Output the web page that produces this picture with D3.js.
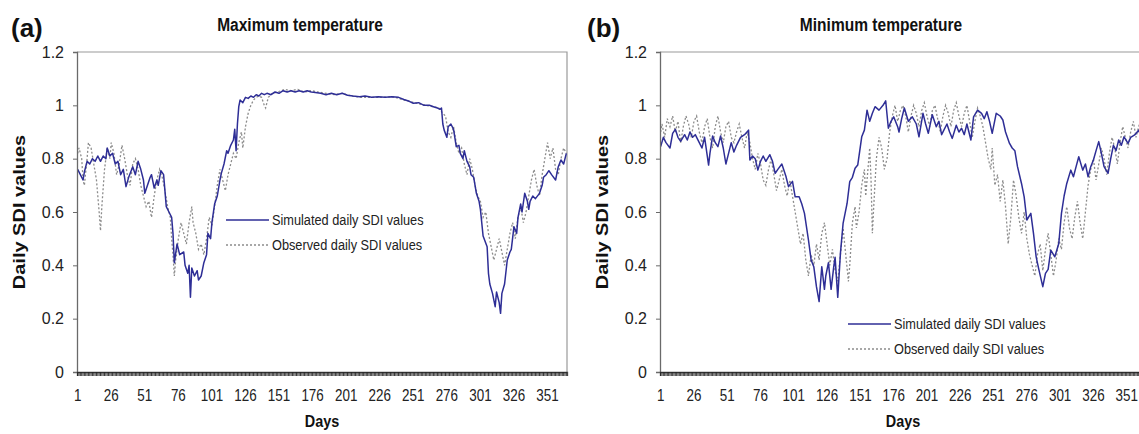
<!DOCTYPE html>
<html>
<head>
<meta charset="utf-8">
<script src="https://cdn.jsdelivr.net/npm/d3@7/dist/d3.min.js"></script>
<style>
  body { margin: 0; background: #fff; }
  svg { font-family: 'Liberation Sans', Arial, sans-serif; }
</style>
</head>
<body>
<div class="chart"></div>
<script>
// categories (days of the year) and axis labels
const days = d3.range(1, 366);
const dayLabels = [1, 26, 51, 76, 101, 126, 151, 176, 201, 226, 251, 276, 301, 326, 351];
const yTicks = [0, 0.2, 0.4, 0.6, 0.8, 1, 1.2];

// (a) maximum temperature, [day, SDI]
const maxSim = [[1,0.76],[3,0.74],[5,0.72],[6,0.75],[8,0.79],[10,0.78],[12,0.8],[14,0.79],[16,0.81],[18,0.79],[20,0.81],[22,0.8],[23,0.84],[25,0.81],[27,0.82],[29,0.78],[31,0.79],[33,0.74],[35,0.76],[37,0.695],[39,0.73],[42,0.77],[44,0.74],[46,0.79],[48,0.76],[50,0.72],[51,0.67],[53,0.7],[55,0.73],[56,0.74],[58,0.69],[60,0.72],[61,0.7],[63,0.755],[65,0.74],[67,0.62],[69,0.6],[71,0.58],[72,0.52],[73,0.41],[75,0.48],[77,0.44],[80,0.45],[81,0.4],[83,0.37],[84,0.4],[85,0.28],[86,0.39],[88,0.36],[90,0.38],[91,0.345],[93,0.36],[95,0.41],[97,0.44],[98,0.52],[100,0.5],[101,0.56],[103,0.63],[105,0.66],[107,0.72],[108,0.745],[110,0.78],[112,0.83],[113,0.82],[115,0.85],[117,0.87],[118,0.91],[119,0.83],[120,0.93],[121,0.995],[122,1.02],[124,1.01],[126,1.03],[128,1.026],[130,1.035],[132,1.03],[134,1.04],[136,1.035],[138,1.045],[140,1.04],[142,1.045],[145,1.04],[148,1.05],[151,1.045],[154,1.055],[157,1.05],[160,1.055],[163,1.05],[166,1.055],[169,1.05],[172,1.055],[175,1.05],[178,1.048],[182,1.045],[186,1.04],[190,1.045],[194,1.04],[198,1.045],[202,1.038],[206,1.035],[211,1.032],[215,1.035],[220,1.03],[225,1.032],[230,1.03],[235,1.032],[240,1.03],[244,1.022],[248,1.015],[251,1.008],[255,1.01],[259,1.0],[263,1.0],[266,0.995],[269,0.99],[271,0.985],[272,0.99],[273,0.93],[274,0.907],[276,0.88],[277,0.92],[279,0.93],[281,0.91],[283,0.845],[285,0.85],[286,0.82],[288,0.8],[289,0.83],[291,0.79],[293,0.77],[294,0.74],[296,0.73],[298,0.67],[300,0.64],[301,0.61],[303,0.51],[306,0.47],[307,0.37],[308,0.33],[310,0.295],[312,0.245],[313,0.3],[315,0.26],[316,0.22],[317,0.295],[319,0.33],[321,0.42],[323,0.45],[324,0.46],[326,0.545],[328,0.52],[329,0.58],[331,0.63],[332,0.6],[334,0.67],[336,0.64],[337,0.61],[338,0.64],[340,0.66],[342,0.65],[345,0.67],[347,0.7],[348,0.73],[350,0.74],[352,0.755],[354,0.74],[357,0.72],[359,0.77],[361,0.795],[363,0.78],[365,0.82]];

const maxObs = [[1,0.82],[2,0.84],[4,0.8],[5,0.72],[6,0.7],[8,0.8],[9,0.86],[11,0.84],[13,0.78],[15,0.72],[17,0.6],[18,0.53],[19,0.62],[21,0.76],[23,0.84],[25,0.8],[26,0.86],[28,0.82],[30,0.74],[32,0.78],[34,0.85],[36,0.8],[38,0.74],[40,0.7],[42,0.78],[44,0.8],[46,0.76],[48,0.7],[50,0.66],[52,0.62],[54,0.64],[56,0.58],[58,0.66],[60,0.72],[62,0.76],[64,0.73],[66,0.68],[68,0.62],[70,0.58],[71,0.5],[72,0.44],[73,0.36],[74,0.42],[76,0.5],[78,0.56],[80,0.52],[82,0.48],[84,0.56],[86,0.62],[87,0.56],[89,0.52],[91,0.46],[93,0.48],[95,0.44],[97,0.5],[99,0.58],[101,0.55],[103,0.62],[105,0.7],[107,0.76],[109,0.72],[111,0.68],[113,0.74],[115,0.78],[117,0.82],[119,0.8],[121,0.86],[123,0.9],[124,0.84],[126,0.92],[128,0.97],[130,1.0],[132,1.02],[134,1.03],[136,1.035],[138,1.03],[140,1.0],[141,0.99],[143,1.03],[146,1.045],[150,1.05],[155,1.06],[160,1.055],[165,1.06],[170,1.05],[175,1.055],[180,1.05],[186,1.045],[192,1.04],[198,1.045],[205,1.035],[212,1.03],[220,1.03],[228,1.03],[236,1.032],[244,1.02],[252,1.01],[260,1.0],[266,0.995],[270,0.99],[273,0.97],[275,0.96],[277,0.9],[279,0.88],[281,0.92],[283,0.86],[285,0.82],[287,0.84],[289,0.78],[291,0.74],[293,0.8],[295,0.76],[297,0.7],[299,0.66],[301,0.64],[303,0.58],[305,0.6],[307,0.52],[309,0.47],[311,0.42],[313,0.46],[315,0.5],[317,0.45],[319,0.4],[321,0.46],[323,0.52],[325,0.56],[327,0.5],[329,0.58],[331,0.62],[333,0.56],[335,0.6],[337,0.66],[339,0.72],[341,0.76],[343,0.7],[345,0.66],[347,0.74],[349,0.8],[351,0.86],[353,0.8],[355,0.84],[357,0.76],[359,0.74],[361,0.8],[363,0.84],[365,0.82]];

// (b) minimum temperature, [day, SDI]
const minSim = [[1,0.845],[3,0.88],[5,0.86],[8,0.84],[10,0.895],[12,0.91],[14,0.88],[16,0.865],[19,0.89],[21,0.87],[23,0.9],[25,0.88],[27,0.89],[30,0.86],[32,0.84],[34,0.88],[37,0.776],[38,0.82],[40,0.885],[42,0.86],[44,0.845],[46,0.885],[48,0.84],[50,0.78],[52,0.82],[54,0.86],[56,0.825],[58,0.85],[61,0.88],[64,0.89],[67,0.907],[68,0.795],[70,0.81],[72,0.8],[74,0.757],[76,0.79],[78,0.81],[80,0.79],[83,0.815],[85,0.79],[87,0.745],[89,0.76],[92,0.78],[95,0.735],[97,0.695],[100,0.715],[102,0.657],[105,0.657],[107,0.63],[109,0.595],[112,0.495],[114,0.42],[116,0.395],[118,0.32],[120,0.264],[122,0.395],[124,0.31],[125,0.36],[127,0.41],[129,0.31],[131,0.395],[132,0.43],[134,0.28],[136,0.445],[138,0.557],[141,0.632],[143,0.714],[145,0.73],[147,0.764],[149,0.776],[152,0.882],[154,0.907],[156,0.982],[158,0.94],[160,0.97],[162,0.995],[165,0.982],[168,1.0],[170,1.017],[172,0.914],[174,0.94],[176,0.957],[179,0.92],[180,0.9],[182,0.95],[184,0.99],[187,0.94],[190,0.957],[193,0.93],[195,0.882],[198,0.97],[200,0.93],[202,0.895],[205,0.965],[208,0.92],[210,0.94],[212,0.89],[216,0.93],[218,0.9],[220,0.876],[223,0.925],[225,0.9],[227,0.914],[229,0.89],[231,0.93],[234,0.87],[236,0.957],[239,0.982],[242,0.97],[244,0.95],[246,0.976],[248,0.94],[250,0.895],[253,0.97],[256,0.96],[258,0.945],[260,0.9],[263,0.857],[265,0.84],[267,0.83],[269,0.77],[272,0.707],[274,0.657],[276,0.57],[279,0.595],[281,0.52],[283,0.432],[285,0.385],[288,0.32],[290,0.37],[292,0.385],[294,0.457],[297,0.432],[300,0.482],[302,0.595],[304,0.66],[306,0.707],[309,0.757],[311,0.732],[313,0.77],[315,0.807],[318,0.757],[320,0.78],[322,0.732],[324,0.77],[326,0.795],[328,0.83],[330,0.864],[332,0.82],[334,0.77],[337,0.745],[339,0.8],[341,0.85],[343,0.83],[345,0.87],[347,0.85],[349,0.882],[352,0.857],[354,0.88],[357,0.889],[360,0.907],[362,0.88],[365,0.93]];

const minObs = [[1,0.9],[2,0.93],[4,0.88],[6,0.95],[8,0.92],[10,0.96],[12,0.9],[14,0.94],[16,0.86],[18,0.92],[20,0.96],[22,0.93],[24,0.88],[26,0.94],[28,0.96],[30,0.9],[32,0.86],[34,0.92],[36,0.95],[38,0.88],[40,0.84],[42,0.92],[44,0.96],[46,0.9],[48,0.86],[50,0.92],[52,0.94],[54,0.88],[56,0.86],[58,0.9],[60,0.93],[62,0.88],[64,0.84],[66,0.9],[68,0.86],[70,0.8],[72,0.76],[74,0.82],[76,0.78],[78,0.72],[80,0.7],[82,0.76],[84,0.8],[86,0.74],[88,0.68],[90,0.72],[92,0.76],[94,0.7],[96,0.66],[98,0.72],[100,0.66],[102,0.6],[104,0.54],[106,0.48],[108,0.52],[110,0.42],[112,0.36],[114,0.44],[116,0.4],[118,0.48],[120,0.42],[122,0.52],[124,0.56],[126,0.48],[128,0.4],[130,0.46],[132,0.38],[134,0.34],[136,0.44],[138,0.54],[140,0.44],[142,0.34],[143,0.4],[145,0.56],[147,0.62],[148,0.54],[150,0.6],[152,0.7],[154,0.76],[155,0.66],[157,0.78],[158,0.84],[159,0.72],[160,0.52],[161,0.62],[163,0.8],[165,0.88],[167,0.84],[169,0.76],[171,0.8],[173,0.9],[175,0.96],[177,1.0],[179,0.94],[181,0.98],[183,1.0],[185,0.96],[187,0.9],[189,0.96],[191,1.0],[193,0.97],[195,0.92],[197,0.98],[199,1.01],[201,0.96],[203,0.92],[205,0.98],[207,1.0],[209,0.95],[211,0.9],[213,0.96],[215,1.0],[217,0.97],[219,0.92],[221,0.98],[223,1.01],[225,0.96],[227,0.92],[229,0.97],[231,1.0],[233,0.94],[235,0.88],[237,0.94],[239,0.99],[241,0.96],[243,0.92],[245,0.86],[247,0.8],[249,0.76],[250,0.84],[252,0.7],[254,0.74],[256,0.64],[258,0.72],[260,0.62],[262,0.48],[264,0.58],[266,0.72],[268,0.66],[270,0.58],[272,0.52],[274,0.6],[276,0.5],[278,0.44],[280,0.4],[282,0.36],[284,0.44],[286,0.48],[288,0.38],[290,0.46],[292,0.52],[294,0.44],[296,0.36],[298,0.42],[300,0.5],[302,0.46],[304,0.56],[306,0.62],[308,0.54],[310,0.5],[312,0.58],[314,0.64],[316,0.56],[318,0.5],[320,0.6],[322,0.7],[324,0.76],[326,0.8],[328,0.72],[330,0.78],[332,0.84],[334,0.8],[336,0.74],[338,0.82],[340,0.88],[342,0.84],[344,0.78],[346,0.86],[348,0.92],[350,0.88],[352,0.84],[354,0.9],[356,0.94],[358,0.88],[360,0.92],[362,0.95],[364,0.9],[365,0.93]];

const legendNames = ['Simulated daily SDI values', 'Observed daily SDI values'];

const W = 1139, H = 434;
const svg = d3.select('.chart').append('svg')
  .attr('width', W)
  .attr('height', H);

const panels = [
  { tag: '(a)', title: 'Maximum temperature', sim: maxSim, obs: maxObs,
    left: 77, width: 490, tagX: 11, yTitleX: 19, legX: 226, legY: 220 },
  { tag: '(b)', title: 'Minimum temperature', sim: minSim, obs: minObs,
    left: 660, width: 486, tagX: 587, yTitleX: 602, legX: 848, legY: 324 }
];

const plotTop = 52, plotBottom = 372;
const squeeze = 'scale(0.84,1)';  // the source figure's text is horizontally narrow

const drawPanel = (p) => {
  var g = svg.append('g');

  var x = d3.scaleBand().domain(days).range([p.left, p.left + p.width]);
  var y = d3.scaleLinear().domain([0, 1.2]).range([plotBottom, plotTop]);
  var cx = d => x(d) + x.bandwidth() / 2;

  // plot area border (top / right)
  g.append('path')
    .attr('d', 'M' + p.left + ',' + plotTop + 'H' + (p.left + p.width) + 'V' + plotBottom)
    .attr('fill', 'none')
    .attr('stroke', '#9a9a9a')
    .attr('stroke-width', 1.2);

  var line = d3.line()
    .x(d => cx(d[0]))
    .y(d => y(d[1]));

  g.append('path')
    .datum(p.obs)
    .attr('fill', 'none')
    .attr('stroke', '#8c8c8c')
    .attr('stroke-width', 1.3)
    .attr('stroke-dasharray', '2,2')
    .attr('d', line);

  g.append('path')
    .datum(p.sim)
    .attr('fill', 'none')
    .attr('stroke', '#2e2e96')
    .attr('stroke-width', 1.5)
    .attr('stroke-linejoin', 'round')
    .attr('d', line);

  // y axis
  var yAxis = g.append('g')
    .attr('transform', 'translate(' + p.left + ',0)')
    .call(d3.axisLeft(y).tickValues(yTicks).tickSize(4).tickPadding(9).tickFormat(d => d));
  yAxis.select('.domain').attr('stroke', '#6a6a6a').attr('stroke-width', 1.3);
  yAxis.selectAll('.tick line').attr('stroke', '#6a6a6a');
  yAxis.selectAll('text').attr('font-size', 16).attr('fill', '#222').attr('font-family', null);

  // x axis: one tick per day, a label every 25 days
  var xAxis = g.append('g')
    .attr('transform', 'translate(0,' + plotBottom + ')')
    .call(d3.axisBottom(x).tickValues(days).tickSize(4).tickPadding(14)
      .tickFormat(d => dayLabels.includes(d) ? d : ''));
  xAxis.select('.domain').attr('stroke', '#444').attr('stroke-width', 1.3);
  xAxis.selectAll('.tick line').attr('stroke', '#222').attr('stroke-width', 0.9);
  xAxis.selectAll('text')
    .attr('font-size', 16).attr('fill', '#222').attr('font-family', null)
    .attr('transform', squeeze);

  // titles
  svg.append('text')
    .attr('x', p.tagX).attr('y', 37)
    .attr('font-size', 26).attr('font-weight', 'bold')
    .attr('fill', '#111')
    .text(p.tag);

  svg.append('text')
    .attr('transform', 'translate(' + (p.left + p.width / 2 - 22) + ',31) ' + squeeze)
    .attr('text-anchor', 'middle')
    .attr('font-size', 18.5).attr('font-weight', 'bold')
    .attr('fill', '#111')
    .text(p.title);

  svg.append('text')
    .attr('transform', 'translate(' + p.yTitleX + ',' + (plotTop + plotBottom) / 2 + ') scale(0.85,1) rotate(-90)')
    .attr('text-anchor', 'middle')
    .attr('dy', '0.35em')
    .attr('font-size', 20).attr('font-weight', 'bold')
    .attr('fill', '#111')
    .text('Daily SDI values');

  svg.append('text')
    .attr('transform', 'translate(' + (p.left + p.width / 2) + ',427) scale(0.9,1)')
    .attr('text-anchor', 'middle')
    .attr('font-size', 16).attr('font-weight', 'bold')
    .attr('fill', '#111')
    .text('Days');

  // legend
  var leg = g.append('g').attr('transform', 'translate(' + p.legX + ',' + p.legY + ')');
  [0, 1].forEach(i => {
    leg.append('line')
      .attr('x1', 0).attr('x2', 43)
      .attr('y1', i * 25).attr('y2', i * 25)
      .attr('stroke', i === 0 ? '#2e2e96' : '#8c8c8c')
      .attr('stroke-width', i === 0 ? 1.5 : 1.3)
      .attr('stroke-dasharray', i === 0 ? null : '2,2');
    leg.append('text')
      .attr('transform', 'translate(46,' + i * 25 + ') scale(0.88,1)')
      .attr('dy', '0.35em')
      .attr('font-size', 14.5)
      .attr('fill', '#222')
      .text(legendNames[i]);
  });
};

panels.forEach(drawPanel);
</script>
</body>
</html>
